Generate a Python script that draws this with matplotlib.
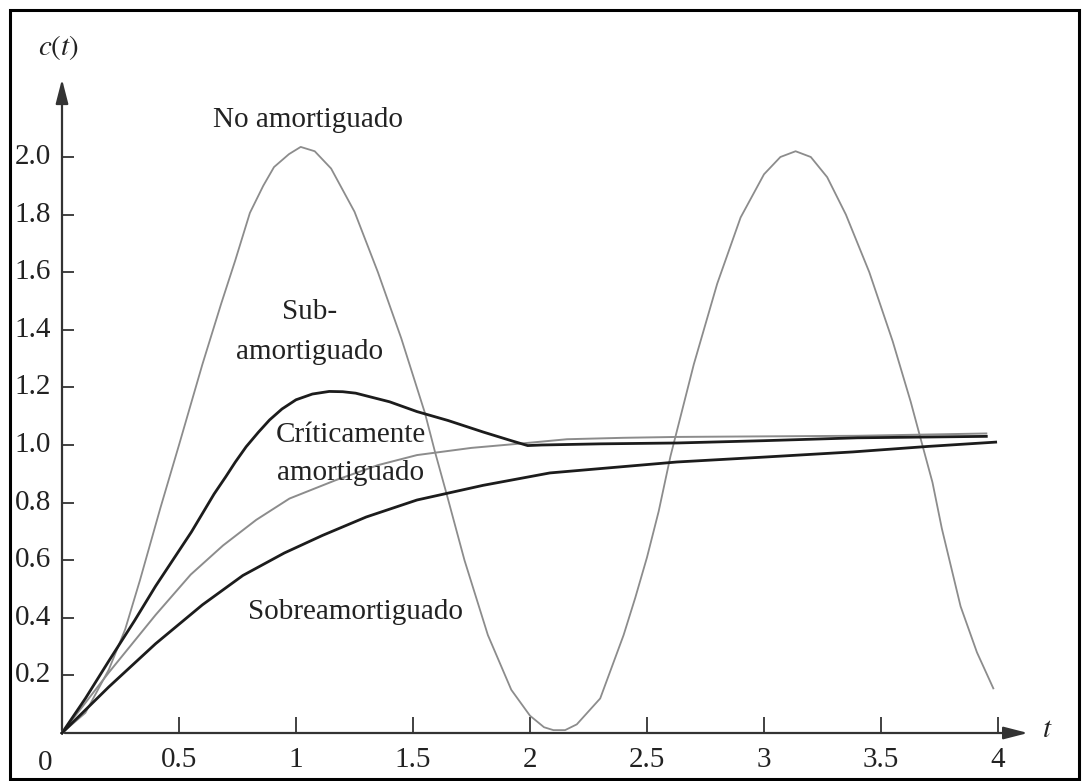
import matplotlib.pyplot as plt
from matplotlib.patches import Rectangle

plt.rcParams['font.family'] = ['Liberation Serif', 'DejaVu Serif']
plt.rcParams['mathtext.fontset'] = 'stix'
plt.rcParams['font.size'] = 21

# No amortiguado
t_no = [0, 0.1, 0.2, 0.27, 0.333, 0.42, 0.5, 0.6, 0.68, 0.74, 0.803, 0.86, 0.906, 0.97, 1.02,
        1.08, 1.15, 1.25, 1.35, 1.45, 1.551, 1.594, 1.645, 1.72, 1.82, 1.92, 2.0, 2.06, 2.1,
        2.15, 2.2, 2.3, 2.4, 2.45, 2.5, 2.55, 2.6, 2.65, 2.7, 2.8, 2.9, 3.0, 3.07, 3.135,
        3.2, 3.27, 3.35, 3.45, 3.55, 3.627, 3.67, 3.72, 3.76, 3.84, 3.91, 3.98]
c_no = [0, 0.07, 0.22, 0.36, 0.53, 0.78, 1.0, 1.28, 1.49, 1.64, 1.806, 1.90, 1.965, 2.01, 2.035,
        2.02, 1.96, 1.81, 1.60, 1.37, 1.111, 0.976, 0.826, 0.60, 0.34, 0.15, 0.06, 0.02, 0.01,
        0.01, 0.03, 0.12, 0.34, 0.47, 0.61, 0.77, 0.96, 1.12, 1.28, 1.56, 1.79, 1.94, 2.0, 2.02,
        2.0, 1.93, 1.80, 1.60, 1.36, 1.15, 1.02, 0.87, 0.71, 0.44, 0.28, 0.155]

# Subamortiguado
t_sub = [0, 0.1, 0.2, 0.31, 0.4, 0.553, 0.65, 0.7, 0.74, 0.787, 0.84, 0.887, 0.94, 1.0, 1.07,
         1.142, 1.2, 1.255, 1.4, 1.517, 1.65, 1.8, 1.92, 1.99, 2.05, 2.3, 2.628, 3.0, 3.4, 3.95]
c_sub = [0, 0.12, 0.25, 0.39, 0.51, 0.698, 0.83, 0.89, 0.94, 0.994, 1.045, 1.087, 1.125, 1.157,
         1.177, 1.186, 1.185, 1.18, 1.15, 1.116, 1.085, 1.045, 1.015, 0.998, 1.0, 1.004, 1.007,
         1.015, 1.025, 1.03]

# Criticamente amortiguado
t_crit = [0, 0.2, 0.4, 0.55, 0.688, 0.83, 0.972, 1.17, 1.35, 1.517, 1.75, 1.987, 2.158,
          2.4, 2.628, 3.0, 3.4, 3.95]
c_crit = [0, 0.21, 0.41, 0.55, 0.651, 0.74, 0.814, 0.878, 0.93, 0.965, 0.99, 1.007, 1.02,
          1.025, 1.028, 1.03, 1.032, 1.04]

# Sobreamortiguado
t_sobre = [0, 0.2, 0.4, 0.6, 0.773, 0.95, 1.113, 1.3, 1.517, 1.8, 2.085, 2.628, 3.0, 3.38,
           3.7, 3.99]
c_sobre = [0, 0.16, 0.31, 0.445, 0.547, 0.625, 0.686, 0.75, 0.809, 0.86, 0.903, 0.941, 0.958,
           0.976, 0.995, 1.01]

x_ticks = [0.5, 1, 1.5, 2, 2.5, 3, 3.5, 4]
x_labels = ['0.5', '1', '1.5', '2', '2.5', '3', '3.5', '4']
y_ticks = [0.2, 0.4, 0.6, 0.8, 1.0, 1.2, 1.4, 1.6, 1.8, 2.0]
y_labels = ['0.2', '0.4', '0.6', '0.8', '1.0', '1.2', '1.4', '1.6', '1.8', '2.0']

gris = '#8c8c8c'
oscuro = '#1c1c1c'
texto = '#222222'

fig = plt.figure(figsize=(10.82, 7.81), dpi=100)
ax = fig.add_axes([0, 0, 1, 1])
ax.set_xlim(-62 / 234, (1082 - 62) / 234)
ax.set_ylim(-48 / 288, 733 / 288)
ax.axis('off')

# ejes con flechas
ax.annotate('', xy=(4.14, 0), xytext=(0, 0),
            arrowprops=dict(arrowstyle='-|>,head_length=0.7,head_width=0.18', color='#333333', lw=1.6))
ax.annotate('', xy=(0, 2.28), xytext=(0, 0),
            arrowprops=dict(arrowstyle='-|>,head_length=0.7,head_width=0.18', color='#333333', lw=1.6))

ax.vlines(x_ticks, 0, 0.055, color='#333333', lw=1.3)
ax.hlines(y_ticks, 0, 0.052, color='#333333', lw=1.3)

for xt, lab in zip(x_ticks, x_labels):
    ax.text(xt, -0.094, lab, ha='center', va='center', color=texto)
for yt, lab in zip(y_ticks, y_labels):
    ax.text(-0.048, yt, lab, ha='right', va='center', color=texto)
ax.text(-0.07, -0.104, '0', ha='center', va='center', color=texto)
ax.text(-0.015, 2.38, r'$c(t)$', ha='center', va='center', color=texto, fontsize=21)
ax.text(4.21, 0.01, r'$t$', ha='center', va='center', color=texto, fontsize=21)

# curvas
ax.plot(t_no, c_no, color=gris, lw=1.3)
ax.plot(t_crit, c_crit, color=gris, lw=1.4)
ax.plot(t_sub, c_sub, color=oscuro, lw=2.0)
ax.plot(t_sobre, c_sobre, color=oscuro, lw=2.0)

# etiquetas
ax.text(1.05, 2.13, 'No amortiguado', ha='center', va='center', color=texto)
ax.text(1.06, 1.462, 'Sub-', ha='center', va='center', color=texto)
ax.text(1.06, 1.323, 'amortiguado', ha='center', va='center', color=texto)
ax.text(1.235, 1.035, 'Críticamente', ha='center', va='center', color=texto)
ax.text(1.235, 0.903, 'amortiguado', ha='center', va='center', color=texto)
ax.text(1.256, 0.42, 'Sobreamortiguado', ha='center', va='center', color=texto)

# marco
fig.patches.append(Rectangle((10 / 1082, 2 / 781), 1069 / 1082, 769 / 781,
                             transform=fig.transFigure, fill=False, lw=2.2, ec='black'))

fig.savefig('out.png', dpi=100)
